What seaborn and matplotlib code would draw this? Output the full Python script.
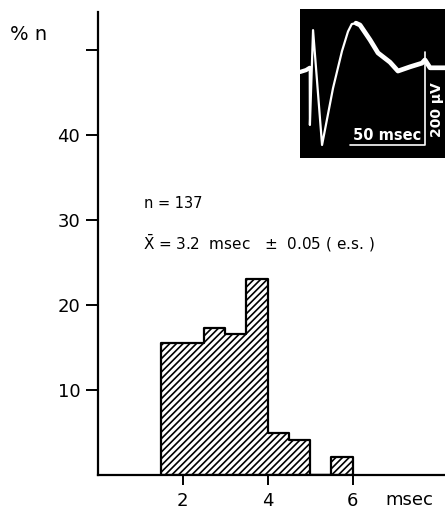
import matplotlib
matplotlib.use("Agg")
import matplotlib.pyplot as plt
import numpy as np
import seaborn as sns

# histogram of latencies (msec), % of n
bin_edges = [1.5, 2.0, 2.5, 3.0, 3.5, 4.0, 4.5, 5.0, 5.5, 6.0]
bin_pct = [15.5, 15.5, 17.3, 16.6, 23.1, 4.9, 4.1, 0.0, 2.1]

y_ticks = [10, 20, 30, 40, 50]
y_tick_labels = ["10", "20", "30", "40", ""]
x_ticks = [2, 4, 6]
x_tick_labels = ["2", "4", "6"]

n_text = "n = 137"
mean_text = r"$\bar{\mathrm{X}}$ = 3.2  msec   ±  0.05 ( e.s. )"

# evoked response trace in the inset (ms, µV)
trace_t = [0, 4, 6.5, 6.6, 8.7, 14.7, 22, 28, 32, 34.5, 37.3, 40, 46.7, 52,
           60, 65.3, 73.3, 81.3, 83.3, 86.7, 96.7]
trace_v = [185, 189, 194, 71, 275, 28, 150, 230, 272, 288, 290, 286, 254, 226,
           206, 187, 196, 204, 211, 194, 194]

sns.set_theme(style="white")
plt.rcParams["font.family"] = ["DejaVu Sans"]
plt.rcParams["hatch.linewidth"] = 1.2
plt.rcParams["text.color"] = "black"

W, H = 445, 514
fig = plt.figure(figsize=(W / 100, H / 100), dpi=100)
fig.patch.set_facecolor("white")

x0, y0, top = 97.5, 475, 12
ax = fig.add_axes([x0 / W, (H - y0) / H, (W - x0) / W, (y0 - top) / H])

centers = [(a + b) / 2 for a, b in zip(bin_edges[:-1], bin_edges[1:])]
sns.histplot(x=centers, weights=bin_pct, bins=bin_edges, element="step",
             fill=True, facecolor="white", edgecolor="black", alpha=1,
             linewidth=1.6, hatch="/////", ax=ax)

ax.set_xlim(0, (W - x0) / 42.5)
ax.set_ylim(0, (y0 - top) / 8.5)
ax.set_xticks(x_ticks)
ax.set_xticklabels(x_tick_labels)
ax.set_yticks(y_ticks)
ax.set_yticklabels(y_tick_labels)
ax.set_xlabel("")
ax.set_ylabel("")
for s in ["top", "right"]:
    ax.spines[s].set_visible(False)
for s in ["left", "bottom"]:
    ax.spines[s].set_linewidth(1.6)
    ax.spines[s].set_color("black")
ax.tick_params(axis="y", direction="out", length=8.5, width=1.4, pad=4,
               labelsize=13, colors="black", left=True)
ax.tick_params(axis="x", direction="out", length=7, width=1.4, pad=5,
               labelsize=13, colors="black", bottom=True)
ax.set_facecolor("white")

ax.text((409 - x0) / 42.5, (y0 - 500) / 8.5, "msec", fontsize=13,
        ha="center", va="center")
fig.text(10 / W, 1 - 34 / H, "% n", fontsize=14, ha="left", va="center")
ax.text(1.1, 32, n_text, fontsize=10.5, ha="left", va="center")
ax.text(1.06, 27.2, mean_text, fontsize=11, ha="left", va="center")

# inset oscillogram
ix0, ix1, iy0, iy1 = 300, 445, 9, 158
ins = fig.add_axes([ix0 / W, (H - iy1) / H, (ix1 - ix0) / W, (iy1 - iy0) / H])
ins.set_facecolor("black")
ins.set_xlim(0, (ix1 - ix0) / 1.5)
ins.set_ylim(0, (iy1 - iy0) / 0.465)
sns.lineplot(x=trace_t[:3], y=trace_v[:3], color="white", linewidth=3.0,
             sort=False, ax=ins)
sns.lineplot(x=trace_t[2:11], y=trace_v[2:11], color="white", linewidth=1.6,
             sort=False, ax=ins)
sns.lineplot(x=trace_t[10:], y=trace_v[10:], color="white", linewidth=3.4,
             sort=False, ax=ins)
ins.plot([33.3, 83.3, 83.3], [28, 28, 228], color="white", linewidth=1.2)
ins.text(58, 48, "50 msec", color="white", fontsize=10.5, fontweight="bold",
         ha="center", va="center")
ins.text(91.5, 105, "200 µV", color="white", fontsize=10, fontweight="bold",
         ha="center", va="center", rotation=90)
ins.set_xticks([])
ins.set_yticks([])
for s in ins.spines.values():
    s.set_visible(False)

fig.savefig("out.png", dpi=100, facecolor="white")
